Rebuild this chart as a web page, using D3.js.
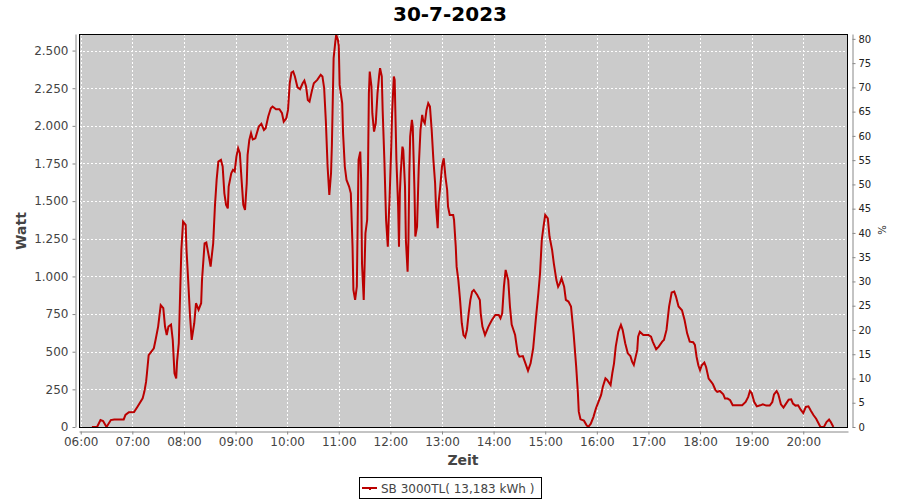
<!DOCTYPE html>
<html><head><meta charset="utf-8">
<script src="https://cdn.jsdelivr.net/npm/d3@7"></script>
<style>
body{margin:0;background:#fff}
svg{display:block;font-family:"DejaVu Sans",sans-serif}
</style>
</head><body>
<svg id="c" width="900" height="500"></svg>
<script>
const title = "30-7-2023";
const yLabel = "Watt";
const y2Label = "%";
const xLabel = "Zeit";
const legendLabel = "SB 3000TL( 13,183 kWh )";

const times = [
"06:13","06:19","06:23","06:26","06:30","06:35","06:39","06:50","06:52","06:56",
"07:02","07:06","07:12","07:14","07:16","07:17","07:19","07:25","07:27","07:30","07:33","07:36","07:38","07:40","07:42","07:45","07:47","07:49","07:51","07:52","07:54","07:56","07:57","07:59",
"08:02","08:03","08:05","08:07","08:09","08:12","08:14","08:17","08:20","08:21","08:24","08:26","08:29","08:31","08:34","08:36","08:38","08:40","08:43","08:45","08:47","08:49","08:51","08:52","08:55","08:57","08:59",
"09:01","09:03","09:05","09:07","09:09","09:11","09:13","09:14","09:16","09:18","09:20","09:23","09:27","09:30","09:33","09:35","09:38","09:41","09:43","09:47","09:51","09:54","09:56","09:59",
"10:01","10:03","10:05","10:07","10:09","10:12","10:15","10:18","10:20","10:22","10:24","10:26","10:29","10:31","10:35","10:39","10:41","10:43","10:45","10:47","10:49","10:51","10:52","10:54","10:56","10:57","10:59",
"11:00","11:01","11:04","11:05","11:07","11:09","11:12","11:14","11:15","11:16","11:17","11:19","11:21","11:22","11:23","11:25","11:26","11:27","11:29","11:31","11:33","11:34","11:35","11:36","11:38","11:39","11:41","11:43","11:45","11:47","11:48","11:50","11:51","11:53","11:54","11:55","11:57","11:58","11:59",
"12:01","12:02","12:04","12:05","12:06","12:07","12:09","12:10","12:11","12:12","12:14","12:15","12:17","12:18","12:20","12:21","12:22","12:23","12:25","12:26","12:28","12:29","12:31","12:33","12:35","12:37","12:38","12:40","12:42","12:44","12:46","12:48","12:50","12:52","12:53","12:55","12:56","12:58",
"13:00","13:02","13:04","13:06","13:07","13:09","13:13","13:14","13:16","13:17","13:19","13:21","13:23","13:25","13:27","13:29","13:31","13:33","13:35","13:37","13:41","13:44","13:45","13:47","13:50","13:54","13:58",
"14:02","14:06","14:08","14:10","14:12","14:14","14:17","14:19","14:21","14:25","14:28","14:30","14:34","14:37","14:40","14:43","14:46","14:49","14:52","14:54","14:56","14:58",
"15:00","15:03","15:05","15:08","15:10","15:13","15:15","15:17","15:19","15:22","15:24","15:27","15:30","15:33","15:36","15:38","15:39","15:41","15:45","15:48","15:50","15:53","15:56","15:59",
"16:02","16:05","16:07","16:10","16:12","16:16","16:18","16:20","16:22","16:25","16:28","16:30","16:33","16:36","16:39","16:41","16:43","16:47","16:48","16:50","16:54",
"17:00","17:03","17:05","17:09","17:12","17:16","17:18","17:21","17:24","17:27","17:30","17:32","17:35","17:39","17:42","17:45","17:48","17:52","17:54","17:56","17:58",
"18:00","18:02","18:05","18:07","18:10","18:13","18:15","18:18","18:20","18:23","18:27","18:29","18:32","18:35","18:38","18:43","18:49","18:53","18:56","18:58",
"19:00","19:03","19:06","19:10","19:13","19:17","19:21","19:24","19:26","19:29","19:31","19:34","19:37","19:40","19:43","19:46","19:48","19:51","19:54","19:57",
"20:00","20:03","20:06","20:09","20:12","20:15","20:18","20:20","20:24","20:27","20:30","20:32","20:35"
];
const watts = [
0,0,46,40,0,46,50,50,80,98,
100,135,190,235,301,357,478,523,578,667,810,790,667,611,667,680,578,357,323,434,556,976,1176,1364,
1342,1176,966,744,578,689,822,778,822,976,1220,1225,1132,1065,1220,1464,1641,1763,1774,1730,1552,1475,1452,1597,1685,1708,1697,
1796,1851,1818,1641,1475,1441,1619,1807,1906,1951,1910,1917,1995,2013,1973,1984,2062,2117,2128,2110,2110,2084,2028,2050,
2106,2283,2354,2361,2328,2256,2243,2283,2300,2261,2172,2161,2239,2283,2305,2339,2328,2250,2028,1730,1541,1685,1873,2449,2560,2604,2570,
2530,2272,2150,1951,1730,1641,1597,1552,1375,1198,910,844,933,1375,1774,1829,1641,1087,844,1287,1375,1730,2216,2360,2261,2084,1962,2017,2216,2339,2383,2328,2106,1774,1574,1375,1198,1375,1508,
1862,2084,2328,2305,2040,1774,1464,1198,1552,1685,1862,1840,1597,1242,1032,1242,1685,1929,2040,1995,1574,1265,1331,1730,1973,2073,2040,2017,2106,2150,2128,1973,1774,1619,1464,1320,1486,1597,
1730,1785,1663,1574,1464,1408,1408,1375,1198,1065,976,844,689,611,596,645,755,844,899,910,877,844,755,667,611,667,711,
744,744,722,755,932,1043,976,800,680,611,489,467,471,423,374,423,523,711,888,1021,1242,1331,
1408,1386,1265,1176,1087,976,932,954,988,932,844,833,800,622,401,224,102,51,42,13,0,22,66,124,
168,213,268,323,312,279,357,423,534,633,678,645,556,489,471,434,412,512,600,633,611,
611,600,567,516,534,567,578,645,800,893,899,866,800,775,711,622,567,563,545,465,410,
377,410,428,399,321,299,284,244,233,239,217,189,189,178,144,144,144,166,200,239,
226,166,137,144,151,142,142,166,217,239,217,151,129,155,182,184,155,142,144,115,
93,133,137,106,78,55,22,0,0,33,49,33,0
];

const wattTicks = [0,250,500,750,1000,1250,1500,1750,2000,2250,2500];
const pctTicks = [0,5,10,15,20,25,30,35,40,45,50,55,60,65,70,75,80];
const hourTicks = ["06:00","07:00","08:00","09:00","10:00","11:00","12:00","13:00","14:00","15:00","16:00","17:00","18:00","19:00","20:00"];
const xExtent = ["05:58","20:52"];
const wattMax = 2610;
const pctMax = 81;

const parse = d3.timeParse("%H:%M");
const data = times.map((t, i) => ({t: parse(t), v: watts[i]})).filter(d => d.v !== undefined);

const P = {l: 79, t: 34, r: 848, b: 427};
const svg = d3.select("#c");

const x = d3.scaleTime().domain(xExtent.map(parse)).range([P.l, P.r]);
const y = d3.scaleLinear().domain([0, wattMax]).range([P.b, P.t]);
const y2 = d3.scaleLinear().domain([0, pctMax]).range([P.b, P.t]);

// plot background
svg.append("rect").attr("x", P.l).attr("y", P.t).attr("width", P.r - P.l).attr("height", P.b - P.t)
  .attr("fill", "#cbcbcb");

// gridlines
const grid = svg.append("g").attr("stroke", "#fff").attr("stroke-width", 1).attr("stroke-dasharray", "2,2");
grid.selectAll(".gy").data(wattTicks).join("line")
  .attr("x1", P.l).attr("x2", P.r)
  .attr("y1", d => Math.round(y(d)) + 0.5).attr("y2", d => Math.round(y(d)) + 0.5);
grid.selectAll(".gx").data(hourTicks.map(parse)).join("line")
  .attr("y1", P.t).attr("y2", P.b)
  .attr("x1", d => Math.round(x(d)) + 0.5).attr("x2", d => Math.round(x(d)) + 0.5);

// line
svg.append("clipPath").attr("id", "clip").append("rect")
  .attr("x", P.l).attr("y", P.t - 1).attr("width", P.r - P.l).attr("height", P.b - P.t + 1);
svg.append("path").datum(data)
  .attr("clip-path", "url(#clip)")
  .attr("fill", "none").attr("stroke", "#bb0000").attr("stroke-width", 2)
  .attr("stroke-linejoin", "miter")
  .attr("d", d3.line().x(d => x(d.t)).y(d => y(d.v)));

// plot border
svg.append("rect").attr("x", P.l + 0.5).attr("y", P.t + 0.5).attr("width", P.r - P.l - 1).attr("height", P.b - P.t)
  .attr("fill", "none").attr("stroke", "#000").attr("stroke-width", 1);

const fmtW = v => d3.format(",")(v).replace(/,/g, ".");

function styleAxis(g, color) {
  g.select(".domain").attr("stroke", "#888");
  g.selectAll(".tick line").attr("stroke", "#888");
  g.selectAll(".tick text").attr("fill", color).style("font-size", "12px").style("font-family", "DejaVu Sans, sans-serif");
}

const gl = svg.append("g").attr("transform", "translate(75.5,0)")
  .call(d3.axisLeft(y).tickValues(wattTicks).tickSize(3).tickSizeOuter(0).tickPadding(4).tickFormat(fmtW));
styleAxis(gl, "#444");

const gr = svg.append("g").attr("transform", "translate(852.5,0)")
  .call(d3.axisRight(y2).tickValues(pctTicks).tickSize(3).tickSizeOuter(0).tickPadding(3));
styleAxis(gr, "#222");
gr.selectAll(".tick text").style("font-size", "10px");

const gb = svg.append("g").attr("transform", "translate(0,431.5)")
  .call(d3.axisBottom(x).tickValues(hourTicks.map(parse)).tickSize(3).tickSizeOuter(0).tickPadding(3)
    .tickFormat(d3.timeFormat("%H:%M")));
styleAxis(gb, "#444");

// title & labels
svg.append("text").attr("x", 450).attr("y", 21).attr("text-anchor", "middle")
  .style("font-size", "20px").style("font-weight", "bold").attr("fill", "#000").text(title);
svg.append("text").attr("transform", "translate(26,231) rotate(-90)").attr("text-anchor", "middle")
  .style("font-size", "14px").style("font-weight", "bold").attr("fill", "#444").text(yLabel);
svg.append("text").attr("x", 463).attr("y", 465).attr("text-anchor", "middle")
  .style("font-size", "14px").style("font-weight", "bold").attr("fill", "#444").text(xLabel);
svg.append("text").attr("transform", "translate(886,230) rotate(-90)").attr("text-anchor", "middle")
  .style("font-size", "10px").attr("fill", "#222").text(y2Label);

// legend
const lg = svg.append("g");
lg.append("rect").attr("x", 359.5).attr("y", 477.5).attr("width", 182).attr("height", 21)
  .attr("fill", "#fff").attr("stroke", "#000");
lg.append("line").attr("x1", 362).attr("x2", 377).attr("y1", 488).attr("y2", 488)
  .attr("stroke", "#bb0000").attr("stroke-width", 2);
lg.append("rect").attr("x", 369).attr("y", 488).attr("width", 2).attr("height", 2).attr("fill", "#bb0000");
lg.append("text").attr("x", 381).attr("y", 492.5).style("font-size", "12px").attr("fill", "#444").text(legendLabel);
</script>
</body></html>
